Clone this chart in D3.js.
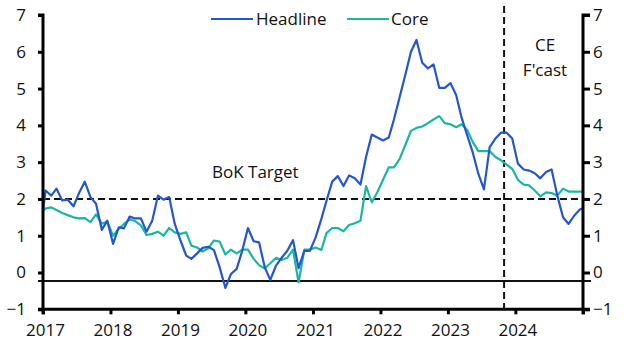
<!DOCTYPE html>
<html>
<head>
<meta charset="utf-8">
<script src="https://cdn.jsdelivr.net/npm/d3@7"></script>
<style>
  html, body { margin: 0; padding: 0; background: #fff; }
  svg { display: block; font-family: "Open Sans", sans-serif; }
</style>
</head>
<body>
<svg id="chart" width="632" height="357"></svg>
<script>
// Monthly series, Dec 2016 .. Jan 2025 (first/last clipped at the axes)
const firstMonth = "2016-12";
const headline = [
  1.00,
  2.23, 2.09, 2.28, 1.96, 1.98, 1.80, 2.16, 2.47, 2.05, 1.87, 1.16, 1.41,
  0.78, 1.23, 1.20, 1.52, 1.47, 1.47, 1.11, 1.41, 2.09, 1.98, 2.05, 1.32,
  0.87, 0.46, 0.37, 0.52, 0.67, 0.70, 0.61, 0.14, -0.42, -0.04, 0.10, 0.59,
  1.21, 0.85, 0.82, 0.14, -0.20, 0.19, 0.40, 0.59, 0.88, 0.12, 0.59, 0.59,
  0.95, 1.45, 1.95, 2.47, 2.62, 2.35, 2.64, 2.56, 2.39, 3.14, 3.75, 3.67,
  3.59, 3.67, 4.16, 4.77, 5.36, 6.00, 6.32, 5.70, 5.55, 5.66, 5.02, 5.02,
  5.15, 4.82, 4.23, 3.73, 3.27, 2.68, 2.26, 3.41, 3.64, 3.80, 3.80, 3.64,
  2.96, 2.80, 2.77, 2.70, 2.56, 2.73, 2.80, 2.09, 1.50, 1.32, 1.55, 1.71,
  1.78
];
const core = [
  1.60,
  1.74, 1.77, 1.70, 1.62, 1.56, 1.50, 1.47, 1.48, 1.37, 1.58, 1.33, 1.38,
  1.00, 1.19, 1.32, 1.44, 1.40, 1.28, 1.02, 1.05, 1.11, 1.00, 1.21, 1.09,
  1.05, 1.09, 0.73, 0.68, 0.57, 0.66, 0.87, 0.84, 0.49, 0.62, 0.52, 0.62,
  0.62, 0.37, 0.20, 0.11, 0.25, 0.40, 0.34, 0.40, 0.62, -0.27, 0.62, 0.62,
  0.68, 0.61, 1.07, 1.21, 1.21, 1.12, 1.29, 1.34, 1.41, 2.35, 1.91, 2.18,
  2.52, 2.86, 2.86, 3.09, 3.46, 3.85, 3.93, 3.97, 4.06, 4.16, 4.25, 4.06,
  4.03, 3.95, 4.03, 3.88, 3.55, 3.30, 3.30, 3.30, 3.14, 3.05, 2.93, 2.82,
  2.52, 2.39, 2.37, 2.23, 2.07, 2.18, 2.16, 2.09, 2.28, 2.20, 2.20, 2.20,
  2.20
];
const yTicks = [-1, 0, 1, 2, 3, 4, 5, 6, 7];
const xTickYears = [2017, 2018, 2019, 2020, 2021, 2022, 2023, 2024, 2025];
const xTickLabels = ["2017", "2018", "2019", "2020", "2021", "2022", "2023", "2024", ""];
const bokTarget = 2;
const forecastStart = "2023-11-01";
const baseLine = -0.23;
const seriesNames = ["Headline", "Core"];
const colors = ["#2356cf", "#1ab6a2"];

const svg = d3.select("#chart");
const L = 43, R = 583, T = 15, B = 309.3;
const FONT = "'Open Sans', sans-serif";
const fontSize = "17px";

const x = d3.scaleTime().domain([new Date(2017, 0, 1), new Date(2025, 0, 1)]).range([L, R]);
const y = d3.scaleLinear().domain([-1, 7]).range([B, T]);

const start = d3.timeParse("%Y-%m")(firstMonth);
const dates = headline.map((_, i) => new Date(start.getFullYear(), start.getMonth() + i, 15));

svg.append("defs").append("clipPath").attr("id", "clip")
  .append("rect").attr("x", L).attr("y", 0).attr("width", R - L).attr("height", 357);

// base solid line
svg.append("line")
  .attr("x1", 38).attr("x2", 591)
  .attr("y1", y(baseLine)).attr("y2", y(baseLine))
  .attr("stroke", "#111").attr("stroke-width", 2);

// BoK target dashed line
svg.append("line")
  .attr("x1", L).attr("x2", R)
  .attr("y1", y(bokTarget)).attr("y2", y(bokTarget))
  .attr("stroke", "#111").attr("stroke-width", 2).attr("stroke-dasharray", "7,4");

// forecast vertical dashed line
svg.append("line")
  .attr("x1", x(new Date(forecastStart))).attr("x2", x(new Date(forecastStart)))
  .attr("y1", 6).attr("y2", B)
  .attr("stroke", "#111").attr("stroke-width", 2).attr("stroke-dasharray", "7,4");

const line = d3.line().x((d, i) => x(dates[i])).y(d => y(d));
const g = svg.append("g").attr("clip-path", "url(#clip)");
g.append("path").datum(core).attr("d", line)
  .attr("fill", "none").attr("stroke", colors[1]).attr("stroke-width", 2.2).attr("stroke-linejoin", "round");
g.append("path").datum(headline).attr("d", line)
  .attr("fill", "none").attr("stroke", colors[0]).attr("stroke-width", 2.2).attr("stroke-linejoin", "round");

// axes
const leftAxis = d3.axisLeft(y).tickValues(yTicks).tickSize(5).tickPadding(12).tickFormat(d3.format("d"));
const rightAxis = d3.axisRight(y).tickValues(yTicks).tickSize(7).tickPadding(3).tickFormat(d3.format("d"));
const bottomAxis = d3.axisBottom(x).tickValues(xTickYears.map(yr => new Date(yr, 0, 1)))
  .tickSize(5).tickPadding(10).tickFormat((d, i) => xTickLabels[i]);

function styleAxis(sel) {
  sel.select(".domain").attr("stroke", "#000").attr("stroke-width", 3);
  sel.selectAll(".tick line").attr("stroke", "#000").attr("stroke-width", 3);
  sel.selectAll(".tick text").attr("fill", "#111").style("font-size", fontSize)
    .style("font-family", FONT);
}
svg.append("g").attr("transform", `translate(${L},0)`).call(leftAxis)
  .call(s => s.select(".domain").attr("d", `M-5,${T}H0V${B}H-5`)).call(styleAxis);
svg.append("g").attr("transform", `translate(${R},0)`).call(rightAxis)
  .call(s => s.select(".domain").attr("d", `M7,${T}H0V${B}H7`)).call(styleAxis);
svg.append("g").attr("transform", `translate(0,${B})`).call(bottomAxis)
  .call(s => s.select(".domain").attr("d", `M${L},5V0H${R}V5`)).call(styleAxis)
  .call(s => s.selectAll(".tick text").attr("dx", 2));

// legend
const legend = [
  { name: seriesNames[0], color: colors[0], x1: 211, x2: 253, tx: 256 },
  { name: seriesNames[1], color: colors[1], x1: 347, x2: 389, tx: 391 }
];
legend.forEach(d => {
  svg.append("line").attr("x1", d.x1).attr("x2", d.x2).attr("y1", 19).attr("y2", 19)
    .attr("stroke", d.color).attr("stroke-width", 2.2);
  svg.append("text").attr("x", d.tx).attr("y", 25).text(d.name)
    .attr("fill", "#111").style("font-size", fontSize).style("font-family", FONT);
});

// annotations
svg.append("text").attr("x", 212).attr("y", 178).text("BoK Target")
  .attr("fill", "#111").style("font-size", fontSize).style("font-family", FONT);
svg.append("text").attr("x", 545).attr("y", 51).attr("text-anchor", "middle").text("CE")
  .attr("fill", "#111").style("font-size", fontSize).style("font-family", FONT);
svg.append("text").attr("x", 545).attr("y", 76).attr("text-anchor", "middle").text("F'cast")
  .attr("fill", "#111").style("font-size", fontSize).style("font-family", FONT);
</script>
</body>
</html>
